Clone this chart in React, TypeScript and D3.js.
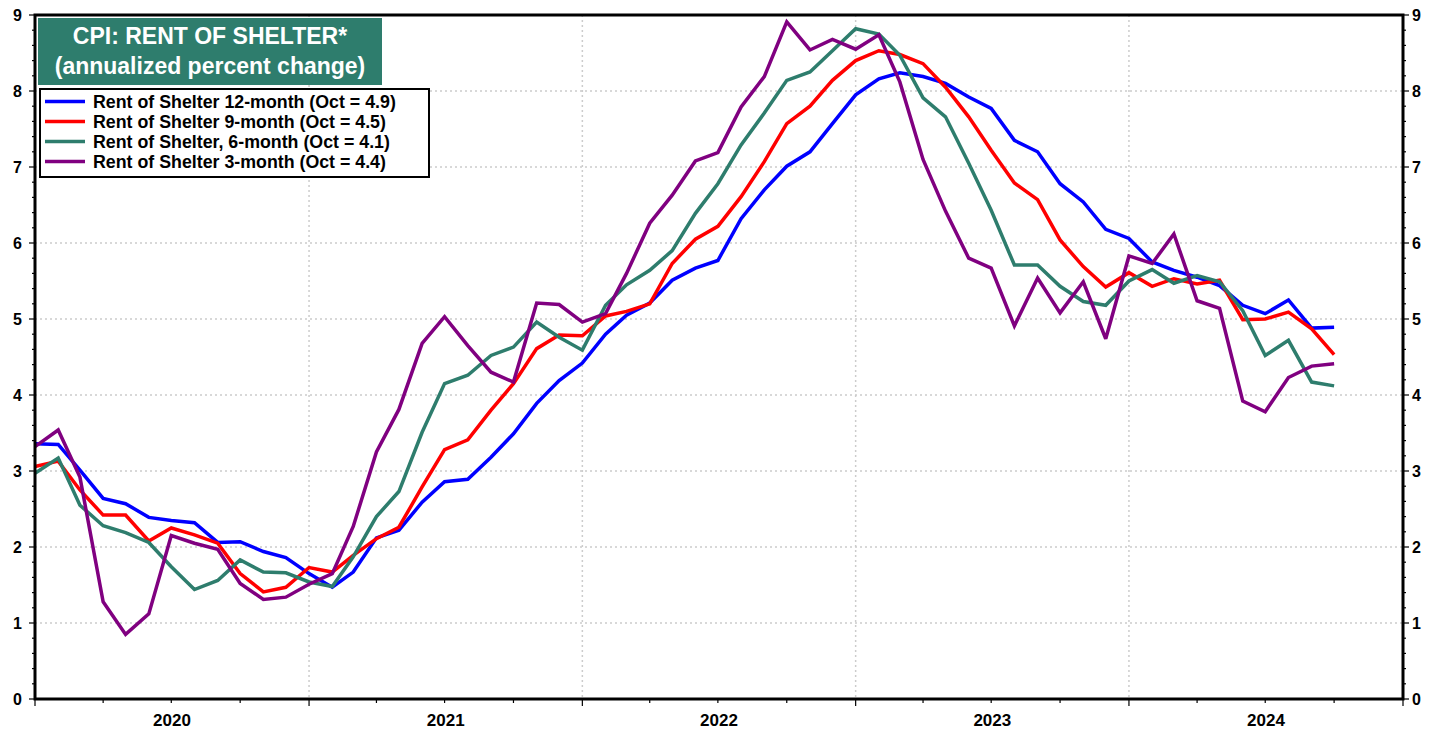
import React from "react";
import * as d3 from "d3";

const startYear = 2020;
const yearLabels = ["2020", "2021", "2022", "2023", "2024"];
const yTicks = [0, 1, 2, 3, 4, 5, 6, 7, 8, 9];

const rent12 = [
  3.36, 3.35, 3.01, 2.64, 2.57, 2.39, 2.35, 2.32, 2.06, 2.07, 1.94, 1.86,
  1.65, 1.47, 1.67, 2.12, 2.22, 2.59, 2.86, 2.89, 3.18, 3.49, 3.89, 4.19,
  4.42, 4.8, 5.05, 5.21, 5.51, 5.67, 5.77, 6.32, 6.7, 7.01, 7.2, 7.57,
  7.95, 8.16, 8.24, 8.19, 8.1, 7.92, 7.77, 7.35, 7.2, 6.78, 6.54, 6.18,
  6.06, 5.75, 5.64, 5.55, 5.44, 5.18, 5.07, 5.25, 4.88, 4.89,
];
const rent9 = [
  3.06, 3.13, 2.75, 2.42, 2.42, 2.08, 2.25, 2.16, 2.05, 1.65, 1.41, 1.47,
  1.73, 1.67, 1.89, 2.11, 2.26, 2.79, 3.28, 3.41, 3.8, 4.15, 4.61, 4.79,
  4.78, 5.04, 5.1, 5.2, 5.73, 6.05, 6.22, 6.61, 7.07, 7.57, 7.8, 8.14,
  8.4, 8.53, 8.48, 8.36, 8.05, 7.66, 7.22, 6.79, 6.57, 6.04, 5.69, 5.42,
  5.61, 5.43, 5.53, 5.46, 5.51, 4.99, 5.0, 5.09, 4.87, 4.53,
];
const rent6 = [
  2.97, 3.17, 2.55, 2.28, 2.19, 2.06, 1.74, 1.44, 1.56, 1.83, 1.67, 1.66,
  1.54, 1.48, 1.87, 2.4, 2.73, 3.51, 4.15, 4.26, 4.52, 4.63, 4.96, 4.76,
  4.59, 5.18, 5.45, 5.64, 5.9, 6.39, 6.78, 7.29, 7.71, 8.14, 8.25, 8.53,
  8.82, 8.75, 8.47, 7.91, 7.66, 7.05, 6.43, 5.71, 5.71, 5.43, 5.23, 5.18,
  5.5, 5.65, 5.47, 5.57, 5.49, 5.11, 4.52, 4.72, 4.17, 4.12,
];
const rent3 = [
  3.32, 3.54, 2.92, 1.28, 0.85, 1.12, 2.15, 2.05, 1.97, 1.52, 1.31, 1.34,
  1.51, 1.65, 2.27, 3.25, 3.81, 4.68, 5.03, 4.65, 4.3, 4.17, 5.21, 5.19,
  4.96, 5.07, 5.6, 6.26, 6.63, 7.08, 7.19, 7.79, 8.19, 8.91, 8.54, 8.68,
  8.55, 8.74, 8.12, 7.1, 6.42, 5.8, 5.67, 4.91, 5.54, 5.08, 5.49, 4.74,
  5.83, 5.73, 6.12, 5.24, 5.14, 3.92, 3.78, 4.23, 4.38, 4.41,
];

const seriesNames = [
  "Rent of Shelter 12-month (Oct = 4.9)",
  "Rent of Shelter 9-month (Oct = 4.5)",
  "Rent of Shelter, 6-month (Oct = 4.1)",
  "Rent of Shelter 3-month (Oct = 4.4)",
];
const seriesData = [rent12, rent9, rent6, rent3];
const seriesColors = ["#0000ff", "#ff0000", "#2e7d6d", "#800080"];

const titleLines = ["CPI: RENT OF SHELTER*", "(annualized percent change)"];

export default function App() {
  const W = 1444;
  const H = 731;
  const left = 35;
  const right = 1403;
  const top = 15;
  const bottom = 699;
  const font = "'Liberation Sans', Arial, sans-serif";

  const x = d3
    .scaleTime()
    .domain([new Date(startYear, 0, 1), new Date(startYear + yearLabels.length, 0, 1)])
    .range([left, right]);
  const y = d3.scaleLinear().domain([0, 9]).range([bottom, top]);

  const dateOf = (i: number) => new Date(startYear, i, 1);
  const line = d3
    .line<number>()
    .x((_, i) => x(dateOf(i)))
    .y((d) => y(d));

  const quarters = d3.timeMonth.every(3)!.range(x.domain()[0], d3.timeDay.offset(x.domain()[1], 1));
  const years = d3.timeYear.range(x.domain()[0], d3.timeDay.offset(x.domain()[1], 1));
  const minorY = d3.range(0, 9.001, 0.2);

  return (
    <svg
      width={W}
      height={H}
      style={{ position: "absolute", left: 0, top: 0, background: "#fff" }}
      fontFamily={font}
    >
      {/* grid */}
      {yTicks
        .filter((t) => t > 0 && t < 9)
        .map((t) => (
          <line
            key={"gy" + t}
            x1={left}
            x2={right}
            y1={y(t)}
            y2={y(t)}
            stroke="#cccccc"
            strokeWidth={1.5}
            strokeDasharray="2,3"
          />
        ))}
      {years
        .filter((d) => x(d) > left + 1 && x(d) < right - 1)
        .map((d, i) => (
          <line
            key={"gx" + i}
            x1={x(d)}
            x2={x(d)}
            y1={top}
            y2={bottom}
            stroke="#cccccc"
            strokeWidth={1.5}
            strokeDasharray="2,3"
          />
        ))}

      {/* series */}
      {seriesData.map((s, k) => (
        <path
          key={"s" + k}
          d={line(s) || ""}
          fill="none"
          stroke={seriesColors[k]}
          strokeWidth={3.5}
          strokeLinejoin="miter"
          strokeMiterlimit={3}
        />
      ))}

      {/* frame */}
      <rect
        x={left}
        y={top}
        width={right - left}
        height={bottom - top}
        fill="none"
        stroke="#000"
        strokeWidth={3}
      />

      {/* y ticks */}
      {minorY.map((t, i) => {
        const major = Math.abs(t - Math.round(t)) < 1e-6;
        const len = major ? 6 : 3;
        return (
          <g key={"yt" + i}>
            <line x1={left - len} x2={left} y1={y(t)} y2={y(t)} stroke="#000" strokeWidth={1.2} />
            <line x1={right} x2={right + len} y1={y(t)} y2={y(t)} stroke="#000" strokeWidth={1.2} />
          </g>
        );
      })}
      {yTicks.map((t) => (
        <g key={"yl" + t}>
          <text
            x={22}
            y={y(t)}
            dy="0.36em"
            textAnchor="end"
            fontSize={16}
            fontWeight="bold"
          >
            {t}
          </text>
          <text
            x={1412}
            y={y(t)}
            dy="0.36em"
            textAnchor="start"
            fontSize={16}
            fontWeight="bold"
          >
            {t}
          </text>
        </g>
      ))}

      {/* x ticks */}
      {quarters.map((d, i) => {
        const isYear = d.getMonth() === 0;
        return (
          <line
            key={"xt" + i}
            x1={x(d)}
            x2={x(d)}
            y1={bottom}
            y2={bottom + (isYear ? 7 : 4)}
            stroke="#000"
            strokeWidth={1.2}
          />
        );
      })}
      {yearLabels.map((lab, i) => {
        const mid = (x(new Date(startYear + i, 0, 1)) + x(new Date(startYear + i + 1, 0, 1))) / 2;
        return (
          <text
            key={"xl" + i}
            x={mid}
            y={726}
            textAnchor="middle"
            fontSize={17}
            fontWeight="bold"
          >
            {lab}
          </text>
        );
      })}

      {/* title box */}
      <rect x={38} y={18} width={344} height={67} fill="#2e7d6d" />
      {titleLines.map((t, i) => (
        <text
          key={"t" + i}
          x={210}
          y={44 + i * 29.5}
          textAnchor="middle"
          fill="#fff"
          fontSize={23}
          fontWeight="bold"
        >
          {t}
        </text>
      ))}

      {/* legend */}
      <rect x={40} y={89} width={389} height={88} fill="#fff" stroke="#000" strokeWidth={2} />
      {seriesNames.map((n, i) => {
        const cy = 101.5 + i * 20;
        return (
          <g key={"lg" + i}>
            <line x1={45} x2={85} y1={cy} y2={cy} stroke={seriesColors[i]} strokeWidth={3.5} />
            <text x={93} y={cy} dy="0.36em" fontSize={17.8} fontWeight="bold">
              {n}
            </text>
          </g>
        );
      })}
    </svg>
  );
}
